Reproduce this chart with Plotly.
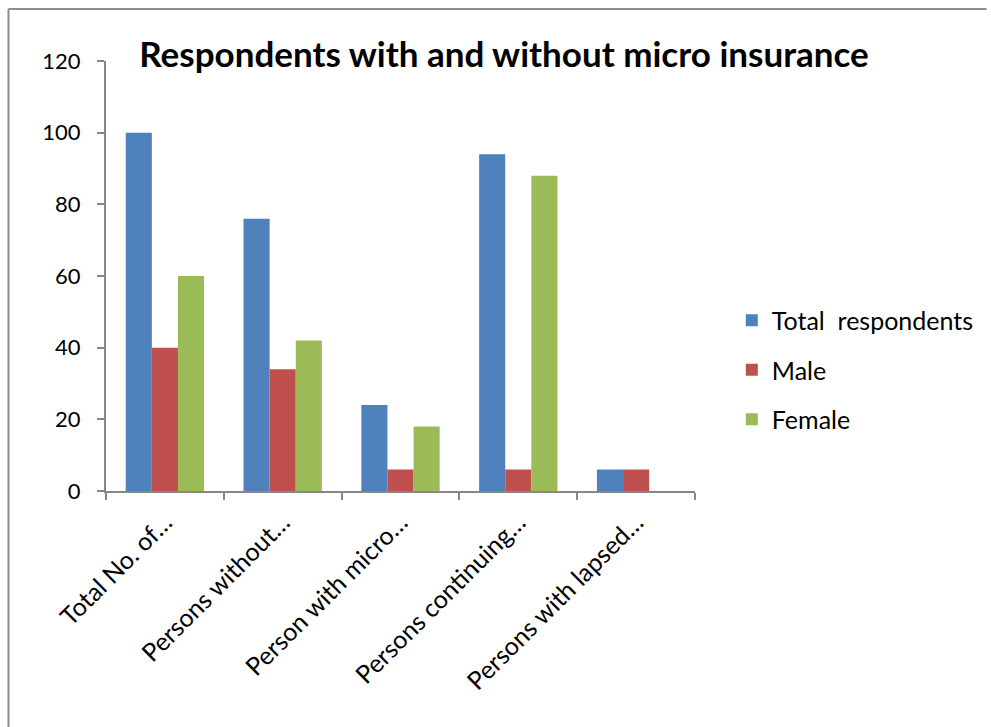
import plotly.graph_objects as go

categories = ["Total No. of…", "Persons without…", "Person with micro…",
              "Persons continuing…", "Persons with lapsed…"]
total_respondents = [100, 76, 24, 94, 6]
male = [40, 34, 6, 6, 6]
female = [60, 42, 18, 88, 0]

series_names = ["Total  respondents", "Male", "Female"]
colors = ["#4F81BD", "#C0504D", "#9BBB59"]

FONT = "Lato"
W, H = 991, 727
L, R, T, B = 106, 293, 61, 236
pw, ph = W - L - R, H - T - B

def px_x(x):
    return (x - L) / pw

def px_y(y):
    return (H - B - y) / ph

fig = go.Figure()
for name, vals, col in zip(series_names, [total_respondents, male, female], colors):
    fig.add_trace(go.Bar(x=categories, y=vals, name=name, marker_color=col,
                         marker_line_width=0, legendgroup=name))

fig.update_layout(
    width=W, height=H,
    margin=dict(l=L, r=R, t=T, b=B),
    paper_bgcolor="white", plot_bgcolor="white",
    barmode="group", bargap=0.335, bargroupgap=0,
    title=dict(text="<b>Respondents with and without micro insurance</b>",
               x=504 / W, xanchor="center", y=1 - 55 / H, yanchor="middle",
               font=dict(family=FONT, size=35, color="black")),
    font=dict(family=FONT, size=25, color="black"),
    legend=dict(x=px_x(735), xanchor="left", y=px_y(370), yanchor="middle",
                font=dict(family=FONT, size=25, color="black"),
                tracegroupgap=14, bgcolor="rgba(0,0,0,0)"),
    showlegend=True,
    xaxis=dict(showline=True, linecolor="#878787", linewidth=2,
               ticks="outside", tickson="boundaries", ticklen=7,
               tickcolor="#878787", tickwidth=2, tickangle=-45,
               ticklabelstandoff=5,
               tickfont=dict(family=FONT, size=25, color="black"),
               showgrid=False, zeroline=False),
    yaxis=dict(range=[0, 120], dtick=20, showline=True, linecolor="#878787",
               linewidth=2, ticks="outside", ticklen=7, tickcolor="#878787",
               tickwidth=2, ticklabelstandoff=12,
               tickfont=dict(family=FONT, size=22, color="black"),
               showgrid=False, zeroline=False),
    shapes=[
        dict(type="line", xref="paper", yref="paper",
             x0=px_x(8), x1=px_x(991), y0=px_y(9), y1=px_y(9),
             line=dict(color="#8c8c8c", width=2)),
        dict(type="line", xref="paper", yref="paper",
             x0=px_x(8), x1=px_x(8), y0=px_y(9), y1=px_y(727),
             line=dict(color="#8c8c8c", width=2)),
    ],
)

fig.write_html("out.html")
